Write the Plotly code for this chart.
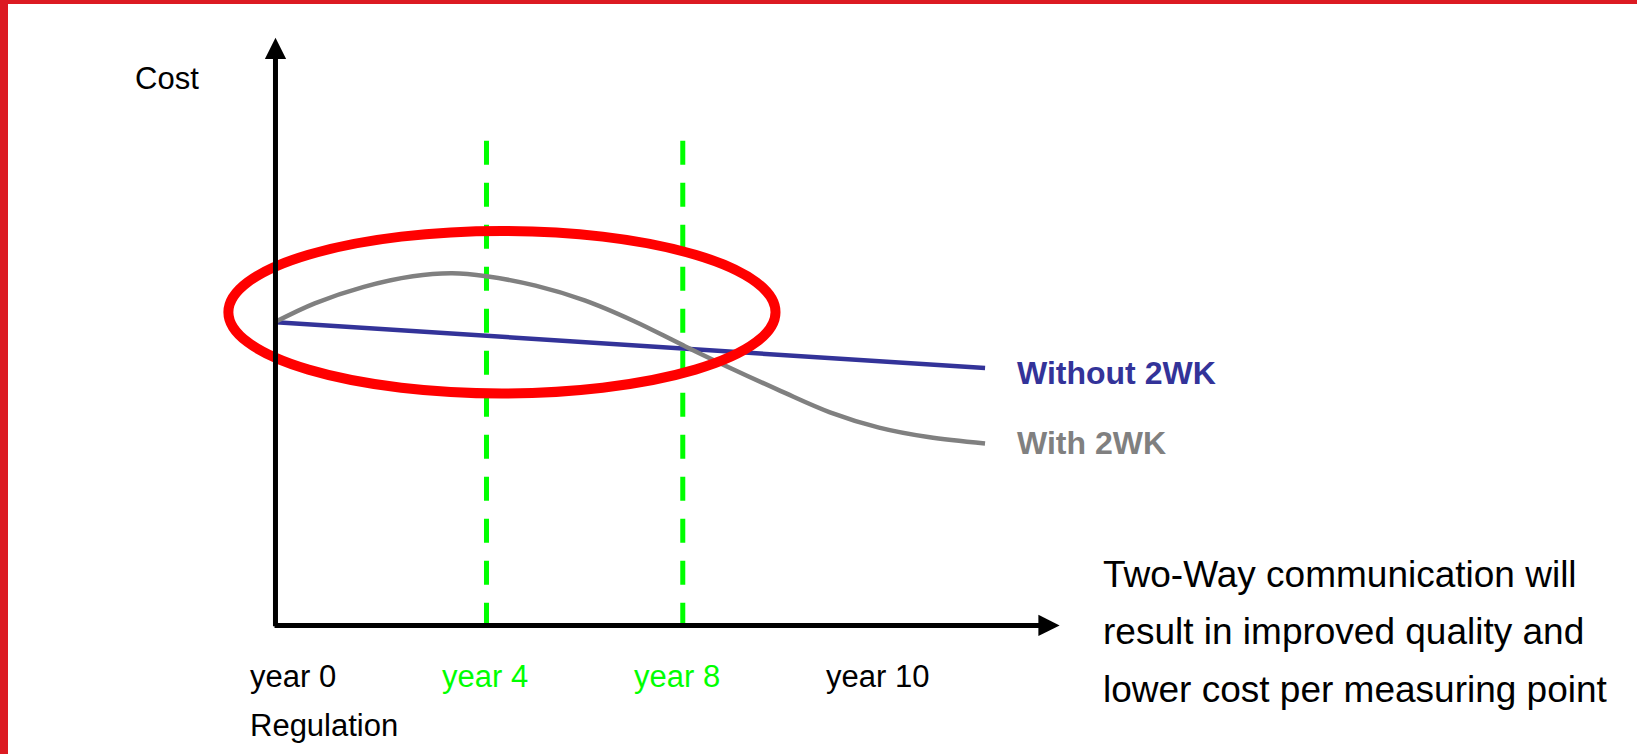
import plotly.graph_objects as go

# ---- data (schematic: x = years, y = cost units) ----
years_gray = [-0.29, 0.5, 1.5, 2.5, 3.3, 4.0, 5.0, 6.0, 7.0, 8.0, 9.0, 10.0, 11.0, 12.0, 13.0, 14.16]
cost_gray = [5.16, 5.47, 5.75, 5.93, 5.98, 5.93, 5.77, 5.52, 5.17, 4.76, 4.36, 3.98, 3.62, 3.36, 3.20, 3.09]
years_blue = [-0.29, 14.16]
cost_blue = [5.15, 4.37]
marker_years = [4, 8]
marker_top = 8.23
tick_years = [0.05, 3.96, 7.89, 11.96]
tick_labels = ["year 0", "year 4", "year 8", "year 10"]
series_names = ["Without 2WK", "With 2WK"]
note_lines = ["Two-Way communication will", "result in improved quality and", "lower cost per measuring point"]
ellipse_years = [-1.26, 9.89]
ellipse_cost = [3.94, 6.70]
axis_origin = [-0.3, 0.0]
axis_ends = [15.68, 9.98]

FONT = "Arial, Liberation Sans, sans-serif"
BLUE = "#333399"
GRAY = "#808080"
GREEN = "#00ff00"

fig = go.Figure()

# green dashed markers
for yr in marker_years:
    fig.add_trace(go.Scatter(x=[yr, yr], y=[marker_top, 0], mode="lines",
                             line=dict(color=GREEN, width=5, dash="24px,18px"),
                             hoverinfo="skip"))

fig.add_trace(go.Scatter(x=years_blue, y=cost_blue, mode="lines",
                         line=dict(color=BLUE, width=4.5), name=series_names[0]))
fig.add_trace(go.Scatter(x=years_gray, y=cost_gray, mode="lines",
                         line=dict(color=GRAY, width=4.5, shape="spline", smoothing=1.0),
                         name=series_names[1]))

# red ellipse
fig.add_shape(type="circle", xref="x", yref="y",
              x0=ellipse_years[0], x1=ellipse_years[1],
              y0=ellipse_cost[0], y1=ellipse_cost[1],
              line=dict(color="#ff0000", width=10), layer="above")

ann = []
# axes as arrows
ann.append(dict(x=axis_origin[0], y=axis_ends[1], ax=axis_origin[0], ay=axis_origin[1] - 0.04,
                xref="x", yref="y", axref="x", ayref="y", text="", showarrow=True,
                arrowhead=2, arrowsize=0.85, arrowwidth=5, arrowcolor="black", standoff=0))
ann.append(dict(x=axis_ends[0], y=axis_origin[1], ax=axis_origin[0] - 0.05, ay=axis_origin[1],
                xref="x", yref="y", axref="x", ayref="y", text="", showarrow=True,
                arrowhead=2, arrowsize=0.85, arrowwidth=5, arrowcolor="black", standoff=0))

ann.append(dict(x=-3.21, y=9.29, xref="x", yref="y", text="Cost", showarrow=False,
                xanchor="left", yanchor="middle", font=dict(family=FONT, size=31, color="black")))

for i, (tv, tl) in enumerate(zip(tick_years, tick_labels)):
    col = GREEN if i in (1, 2) else "black"
    ann.append(dict(x=tv, y=-0.87, xref="x", yref="y", text=tl, showarrow=False,
                    xanchor="center", yanchor="middle", font=dict(family=FONT, size=31, color=col)))
ann.append(dict(x=-0.87, y=-1.70, xref="x", yref="y", text="Regulation", showarrow=False,
                xanchor="left", yanchor="middle", font=dict(family=FONT, size=31, color="black")))

ann.append(dict(x=14.77, y=cost_blue[-1] - 0.08, xref="x", yref="y", text="<b>%s</b>" % series_names[0],
                showarrow=False, xanchor="left", yanchor="middle",
                font=dict(family=FONT, size=32, color=BLUE)))
ann.append(dict(x=14.77, y=cost_gray[-1] + 0.01, xref="x", yref="y", text="<b>%s</b>" % series_names[1],
                showarrow=False, xanchor="left", yanchor="middle",
                font=dict(family=FONT, size=32, color=GRAY)))

for i, line in enumerate(note_lines):
    ann.append(dict(x=16.53, y=0.87 - 0.975 * i, xref="x", yref="y", text=line, showarrow=False,
                    xanchor="left", yanchor="middle", font=dict(family=FONT, size=37, color="black")))

fig.update_layout(
    width=1637, height=754,
    margin=dict(l=8, t=4, r=0, b=0),
    paper_bgcolor="#dc1a22", plot_bgcolor="white",
    showlegend=False,
    xaxis=dict(visible=False, range=[-5.751, 27.446], fixedrange=True),
    yaxis=dict(visible=False, range=[-2.184, 10.554], fixedrange=True),
    annotations=ann,
)

fig.write_html("out.html", config={"displayModeBar": False, "staticPlot": True},
               post_script="document.body.style.margin='0';document.body.style.overflow='hidden';")
